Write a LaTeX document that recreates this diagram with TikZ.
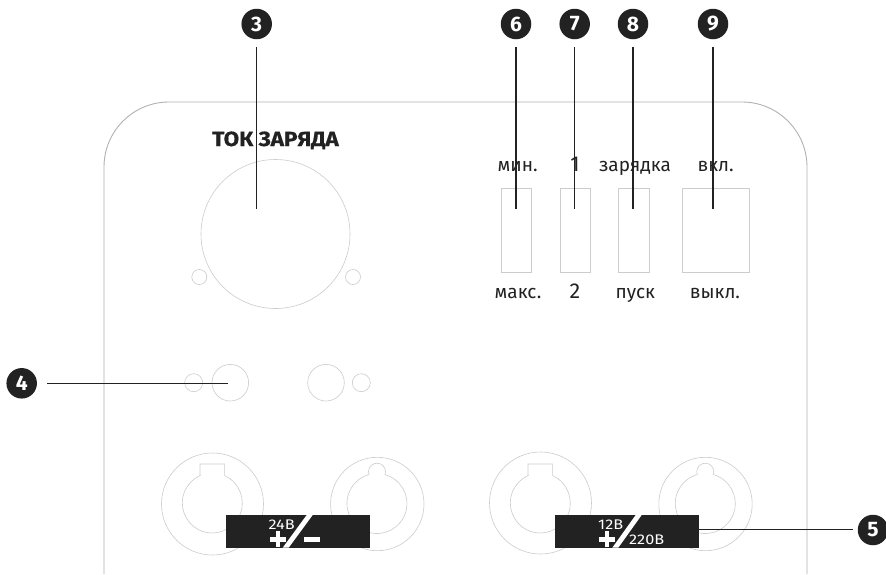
\documentclass[tikz,border=0pt]{standalone}
\usepackage{fontspec}
\setmainfont{Fira Sans}
\newfontfamily\titlefont[FakeStretch=1.1,FakeBold=0.6]{Fira Sans Bold}
\newfontfamily\platefont[FakeStretch=1.16]{Fira Sans}
\definecolor{ink}{HTML}{222222}
\tikzset{
  x=1pt,y=-1pt,
  panel/.style={draw=black!30,line width=0.9pt},
  faint/.style={draw=black!20,line width=0.6pt},
  badge/.style={circle,fill=ink,text=white,minimum size=30.5pt,inner sep=0pt,font=\fontsize{21}{21}\selectfont\bfseries},
  leader/.style={draw=ink,line width=1.2pt},
  lab/.style={text=ink,inner sep=0pt,anchor=base,font=\fontsize{19}{19}\selectfont},
  numlab/.style={lab,font=\fontsize{21.5}{21.5}\selectfont},
  barlab/.style={text=white,inner sep=0pt,anchor=base,font=\fontsize{14}{14}\platefont},
  signmark/.style={fill=white,draw=none},
  plate/.style={fill=ink,draw=none},
  slashmark/.style={fill=white,draw=none},
}
\begin{document}
\begin{tikzpicture}
\useasboundingbox (0,0) rectangle (886,574);
\fill[white] (0,0) rectangle (886,574);
% panel
\draw[panel] (104,574) -- (104,167) arc[start angle=180,end angle=270,radius=65] -- (742,102) arc[start angle=270,end angle=360,radius=65] -- (807,574);
% knob
\draw[faint] (275.5,234) circle[radius=74.5];
\draw[faint] (199.3,277) circle[radius=7.5];
\draw[faint] (353,277) circle[radius=7.5];
% switches
\draw[faint] (501.3,188.3) rectangle (531.7,272.7);
\draw[faint] (560.3,188.3) rectangle (590.7,272.7);
\draw[faint] (618.7,188.3) rectangle (649.3,272.7);
\draw[faint] (682.3,188.3) rectangle (749,272.7);
% lamps
\draw[faint] (193.7,382.7) circle[radius=9];
\draw[faint] (230.3,382.7) circle[radius=18.3];
\draw[faint] (326,382.7) circle[radius=18.3];
\draw[faint] (361.3,382.7) circle[radius=9];
% terminals: outer
\draw[faint] (212.5,504) circle[radius=51];
\draw[faint] (377.3,504) circle[radius=46.7];
\draw[faint] (540.5,503) circle[radius=51];
\draw[faint] (705.5,504) circle[radius=46.7];
% terminals: inner with key
\draw[faint] (199.95,475.65) -- (199.95,464) -- (224.65,464) -- (224.65,475.65)
  arc[start angle=-65.7,end angle=245.7,radius=30] -- cycle;
\draw[faint] (527.95,475.65) -- (527.95,464) -- (552.65,464) -- (552.65,475.65)
  arc[start angle=-65.7,end angle=245.7,radius=30] -- cycle;
\draw[faint] (369,474.6) arc[start angle=160,end angle=380,radius=8.5]
  arc[start angle=-74.5,end angle=254.5,radius=30];
\draw[faint] (697.3,474.6) arc[start angle=160,end angle=380,radius=8.5]
  arc[start angle=-74.5,end angle=254.5,radius=30];
% plates
\fill[plate] (226.3,515) rectangle (370.3,547.7);
\fill[slashmark] (306.7,515) -- (312.7,515) -- (288.7,547.7) -- (282.7,547.7) -- cycle;
\fill[signmark] (269.7,537) rectangle (285.7,541.5);
\fill[signmark] (275.5,531) rectangle (280,547);
\fill[signmark] (304.3,537) rectangle (320,541.5);
\node[barlab] (v24) at (281.7,529) {24В};
\fill[plate] (555.3,515) rectangle (699.3,547.7);
\fill[slashmark] (635.7,515) -- (641.7,515) -- (618.3,547.7) -- (612.3,547.7) -- cycle;
\fill[signmark] (598.7,537) rectangle (614.7,541.5);
\fill[signmark] (604.5,531) rectangle (609,547);
\node[barlab] (v12) at (610.7,529) {12В};
\node[barlab] (v220) at (646.7,544) {220В};
% labels
\node[lab,font=\fontsize{20.5}{20.5}\titlefont] (title) at (275.5,146) {ТОК ЗАРЯДА};
\node[lab] (a1) at (517.7,171) {мин.};
\node[numlab] (a2) at (575,171) {1};
\node[lab] (a3) at (635,171) {зарядка};
\node[lab] (a4) at (715.7,171) {вкл.};
\node[lab] (b1) at (518,298.5) {макс.};
\node[numlab] (b2) at (575,298.5) {2};
\node[lab] (b3) at (635.3,298.5) {пуск};
\node[lab] (b4) at (715,298.5) {выкл.};
% badges
\node[badge] (n3) at (256.7,24) {3};
\node[badge] (n4) at (21.7,383.3) {4};
\node[badge] (n5) at (873,530) {5};
\node[badge] (n6) at (516,24) {6};
\node[badge] (n7) at (574.7,24) {7};
\node[badge] (n8) at (633,24) {8};
\node[badge] (n9) at (713,24) {9};
% leader ends
\coordinate (s3) at (256.7,47); \coordinate (e3) at (256.7,209);
\coordinate (s4) at (47,383.3); \coordinate (e4) at (228,383.3);
\coordinate (s5) at (852.7,529.5); \coordinate (e5) at (672.7,529.5);
\coordinate (s6) at (516,47); \coordinate (e6) at (516,209);
\coordinate (s7) at (574.7,47); \coordinate (e7) at (574.7,209);
\coordinate (s8) at (633,47); \coordinate (e8) at (633,209);
\coordinate (s9) at (713,47); \coordinate (e9) at (713,209);
\draw[leader] (s3) -- (e3);
\draw[leader] (s4) -- (e4);
\draw[leader] (s5) -- (e5);
\draw[leader] (s6) -- (e6);
\draw[leader] (s7) -- (e7);
\draw[leader] (s8) -- (e8);
\draw[leader] (s9) -- (e9);
\end{tikzpicture}
\end{document}
